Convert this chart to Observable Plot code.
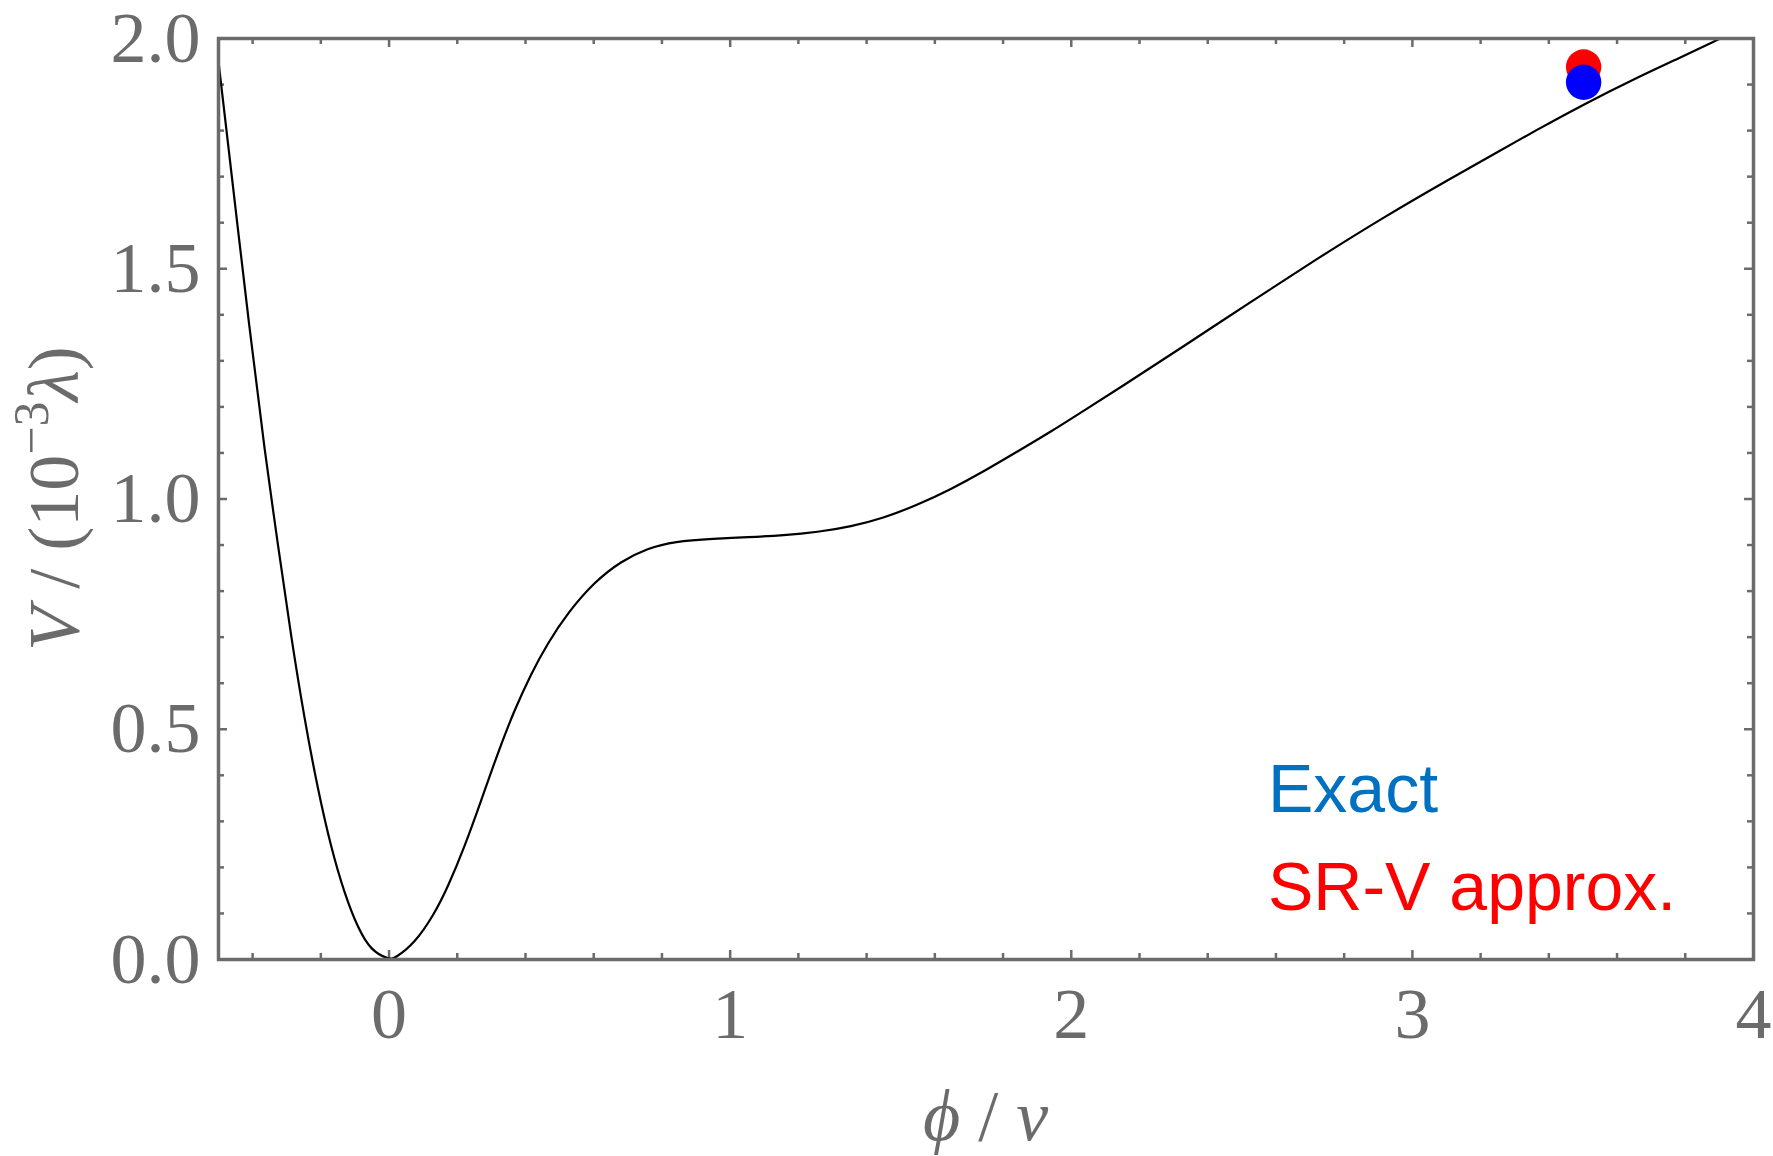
<!DOCTYPE html>
<html>
<head>
<meta charset="utf-8">
<script src="https://cdn.jsdelivr.net/npm/d3@7"></script>
<script src="https://cdn.jsdelivr.net/npm/@observablehq/plot@0.6"></script>
<style>
  html, body { margin: 0; padding: 0; background: #ffffff; }
  #chart { width: 1773px; height: 1156px; }
</style>
</head>
<body>
<div id="chart"></div>
<script>
// ---- data ----
const phi = [-0.5, -0.399, -0.365, -0.326, -0.287, -0.248, -0.209, -0.170, -0.131, -0.092, -0.053, 0,
  0.016, 0.074, 0.133, 0.172, 0.221, 0.270, 0.318, 0.367, 0.416, 0.465, 0.524, 0.602, 0.680, 0.758,
  0.836, 0.953, 1.051, 1.158, 1.256, 1.354, 1.451, 1.549, 1.647, 1.744, 1.842, 1.940, 2.037, 2.135,
  2.330, 2.526, 2.721, 2.916, 3.112, 3.258, 3.356, 3.502, 3.649, 3.795, 3.893, 4.0];
const V = [1.95, 1.304, 1.108, 0.901, 0.700, 0.522, 0.370, 0.243, 0.144, 0.069, 0.019, 0,
  0.002, 0.034, 0.099, 0.157, 0.244, 0.345, 0.447, 0.541, 0.620, 0.687, 0.753, 0.820, 0.865, 0.893,
  0.908, 0.914, 0.917, 0.921, 0.928, 0.940, 0.959, 0.987, 1.021, 1.060, 1.103, 1.146, 1.192, 1.238,
  1.332, 1.428, 1.522, 1.612, 1.696, 1.757, 1.798, 1.857, 1.912, 1.962, 1.997, 2.033];

const pointNames = ["SR-V approx.", "Exact"];
const pointPhi = [3.502, 3.502];
const pointV = [1.938, 1.905];
const pointColors = ["#ff0000", "#0000ff"];

const legendLabels = ["Exact", "SR-V approx."];
const legendColors = ["#0070c0", "#ff0000"];

const xMajor = [0, 1, 2, 3, 4];
const xMinor = [-0.4, -0.2, 0.2, 0.4, 0.6, 0.8, 1.2, 1.4, 1.6, 1.8, 2.2, 2.4, 2.6, 2.8, 3.2, 3.4, 3.6, 3.8];
const yMajor = [0, 0.5, 1.0, 1.5, 2.0];
const yMinor = [0.1, 0.2, 0.3, 0.4, 0.6, 0.7, 0.8, 0.9, 1.1, 1.2, 1.3, 1.4, 1.6, 1.7, 1.8, 1.9];

// ---- build ----
const curve = phi.map((p, i) => ({phi: p, V: V[i]}));
const pts = pointNames.map((n, i) => ({name: n, phi: pointPhi[i], V: pointV[i], color: pointColors[i]}));

const GRAY = "#6b6b6b";
const xDom = [-0.5, 4], yDom = [0, 2];
const W = 1773, H = 1156, mL = 218, mR = 20, mT = 38, mB = 197;
const kx = (xDom[1] - xDom[0]) / (W - mL - mR); // data per px
const ky = (yDom[1] - yDom[0]) / (H - mT - mB);
const majLen = 9, minLen = 6;

const tickStyle = {stroke: GRAY, strokeWidth: 2.5};
const svg = Plot.plot({
  width: W, height: H,
  marginLeft: mL, marginRight: mR, marginTop: mT, marginBottom: mB,
  style: {fontFamily: "'Liberation Serif', 'Times New Roman', serif", fontSize: "72px", color: GRAY, background: "#ffffff"},
  x: {domain: xDom},
  y: {domain: yDom},
  marks: [
    // ticks (inward, all four sides)
    Plot.ruleX(xMajor, {y1: yDom[0], y2: yDom[0] + majLen * ky, ...tickStyle}),
    Plot.ruleX(xMinor, {y1: yDom[0], y2: yDom[0] + minLen * ky, ...tickStyle}),
    Plot.ruleX(xMajor, {y1: yDom[1], y2: yDom[1] - majLen * ky, ...tickStyle}),
    Plot.ruleX(xMinor, {y1: yDom[1], y2: yDom[1] - minLen * ky, ...tickStyle}),
    Plot.ruleY(yMajor, {x1: xDom[0], x2: xDom[0] + majLen * kx, ...tickStyle}),
    Plot.ruleY(yMinor, {x1: xDom[0], x2: xDom[0] + minLen * kx, ...tickStyle}),
    Plot.ruleY(yMajor, {x1: xDom[1], x2: xDom[1] - majLen * kx, ...tickStyle}),
    Plot.ruleY(yMinor, {x1: xDom[1], x2: xDom[1] - minLen * kx, ...tickStyle}),
    Plot.axisX(xMajor, {anchor: "bottom", tickSize: 0, tickPadding: 27, tickFormat: d3.format("d"),
      fontSize: 72, fontFamily: "'Liberation Serif', serif", fill: GRAY, label: null}),
    Plot.axisY(yMajor, {anchor: "left", tickSize: 0, tickPadding: 18, tickFormat: d3.format(".1f"),
      fontSize: 72, fontFamily: "'Liberation Serif', serif", fill: GRAY, label: null}),
    Plot.line(curve, {x: "phi", y: "V", stroke: "#000000", strokeWidth: 2.2, curve: "basis", clip: true}),
    Plot.dot(pts, {x: "phi", y: "V", r: 17.7, fill: "color", stroke: "none"}),
    Plot.frame({stroke: GRAY, strokeWidth: 3.5})
  ]
});
document.getElementById("chart").appendChild(svg);

// ---- axis titles and legend text ----
const s = d3.select(svg);
const serif = "'Liberation Serif', 'Times New Roman', serif";
const xCenter = (mL + (W - mR)) / 2, yCenter = (mT + (H - mB)) / 2;

const yl = s.append("text")
  .attr("transform", `translate(78,${yCenter}) rotate(-90)`)
  .attr("text-anchor", "middle")
  .attr("font-family", serif).attr("font-size", 72).attr("fill", GRAY);
yl.append("tspan").attr("font-style", "italic").text("V");
yl.append("tspan").text(" / (10");
yl.append("tspan").attr("font-size", 50).attr("dy", -30).text("\u22123");
yl.append("tspan").attr("dy", 30).attr("font-style", "italic").text("\u03bb");
yl.append("tspan").text(")");

const xl = s.append("text")
  .attr("x", xCenter).attr("y", 1140)
  .attr("text-anchor", "middle")
  .attr("font-family", serif).attr("font-size", 72).attr("fill", GRAY);
xl.append("tspan").attr("font-style", "italic").text("\u03d5");
xl.append("tspan").text(" / ");
xl.append("tspan").attr("font-style", "italic").text("\u03bd");

const legBase = [812, 910];
legendLabels.forEach((t, i) => {
  s.append("text")
    .attr("x", 1268).attr("y", legBase[i])
    .attr("text-anchor", "start")
    .attr("font-family", "'Liberation Sans', Arial, sans-serif")
    .attr("font-size", 68)
    .attr("fill", legendColors[i])
    .text(t);
});
</script>
</body>
</html>
